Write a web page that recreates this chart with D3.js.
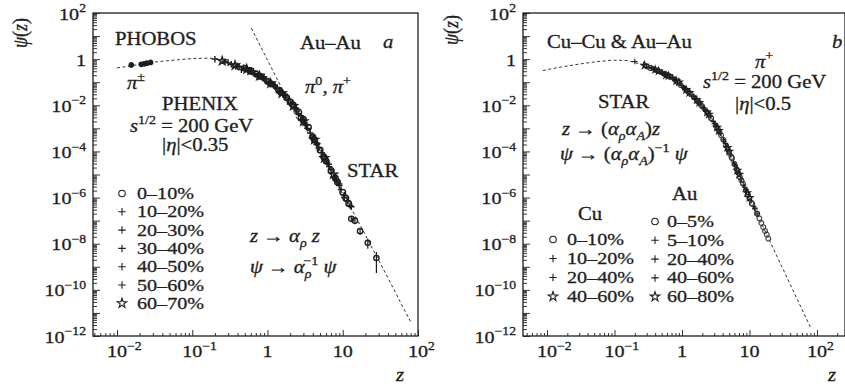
<!DOCTYPE html>
<html>
<head>
<meta charset="utf-8">
<script src="https://cdn.jsdelivr.net/npm/d3@7"></script>
<style>
  body { margin: 0; background: #fff; }
  svg text { white-space: pre; }
</style>
</head>
<body>
<div id="chart"></div>
<script>
// ---- data ----
// panel a : Au-Au, PHOBOS / PHENIX / STAR
const phobosZ   = [0.0155, 0.021, 0.023, 0.025, 0.028];
const phobosPsi = [0.56, 0.6, 0.63, 0.67, 0.72];

const a0010Z   = [0.5, 0.7, 1.0, 1.4, 2.0, 2.8, 4.0, 5.6, 8.0, 11];
const a0010Psi = [0.40, 0.23, 0.11, 0.046, 0.014, 2.8e-3, 4.2e-4, 5.8e-5, 6.8e-6, 9.3e-7];
const a1020Z   = [0.2, 0.45, 0.62, 0.85, 1.2, 1.65, 2.3, 3.2, 4.5, 6.2, 8.5, 11.5];
const a1020Psi = [1.0, 0.35, 0.28, 0.16, 0.072, 0.028, 7.6e-3, 1.4e-3, 2.0e-4, 3.2e-5, 4.7e-6, 7.1e-7];
const a2030Z   = [0.38, 0.52, 0.75, 1.05, 1.5, 2.1, 2.9, 4.1, 5.8, 7.8, 10.5];
const a2030Psi = [0.48, 0.38, 0.20, 0.10, 0.037, 0.011, 2.5e-3, 3.7e-4, 4.7e-5, 7.9e-6, 1.26e-6];
const a3040Z   = [0.33, 0.48, 0.68, 0.95, 1.35, 1.9, 2.6, 3.7, 5.2, 7.0, 9.5, 12.5];
const a3040Psi = [0.60, 0.42, 0.24, 0.126, 0.052, 0.017, 4.3e-3, 6.3e-4, 8.9e-5, 1.6e-5, 2.2e-6, 4.5e-7];
const a4050Z   = [0.3, 0.42, 0.6, 0.88, 1.25, 1.75, 2.45, 3.4, 4.8, 6.6, 9.0];
const a4050Psi = [0.69, 0.48, 0.30, 0.145, 0.065, 0.023, 5.6e-3, 1.0e-3, 1.4e-4, 2.2e-5, 3.3e-6];
const a5060Z   = [0.27, 0.4, 0.57, 0.8, 1.15, 1.6, 2.25, 3.1, 4.4, 6.0, 8.2];
const a5060Psi = [0.78, 0.50, 0.33, 0.18, 0.083, 0.030, 8.3e-3, 1.7e-3, 2.4e-4, 4.0e-5, 5.8e-6];
const a6070Z   = [0.25, 0.37, 0.53, 0.78, 1.1, 1.55, 2.2, 3.0, 4.2, 5.7, 7.5];
const a6070Psi = [0.83, 0.54, 0.37, 0.19, 0.089, 0.033, 9.3e-3, 2.0e-3, 3.2e-4, 5.2e-5, 1.0e-5];
// STAR pi+ in the same centralities
const s0010Z   = [0.6, 0.8, 1.1, 1.5, 1.8, 2.2, 2.6, 3.0, 3.5, 4.2, 5.0, 6.0, 7.0, 8.5, 10, 12];
const s0010Psi = [0.30, 0.18, 0.085, 0.037, 0.021, 0.0102, 5.0e-3, 2.5e-3, 1.12e-3, 3.2e-4, 1.15e-4, 3.8e-5, 1.5e-5, 4.7e-6, 1.7e-6, 5.5e-7];
const s2040Z   = [0.65, 0.9, 1.25, 1.7, 2.4, 3.3, 4.6, 6.5, 9.0, 13];
const s2040Psi = [0.30, 0.174, 0.076, 0.030, 7.4e-3, 1.4e-3, 2.2e-4, 2.8e-5, 3.9e-6, 4.0e-7];
const s4060Z   = [0.55, 0.75, 1.05, 1.45, 2.0, 2.8, 3.9, 5.4, 7.6, 10.5];
const s4060Psi = [0.28, 0.17, 0.085, 0.035, 0.0117, 2.3e-3, 4.1e-4, 6.0e-5, 7.8e-6, 1.0e-6];

const starAZ   = [13, 14.5, 17, 21.5, 28];
const starAPsi = [1.2e-7, 1.0e-7, 3.5e-8, 1.1e-8, 2.4e-9];
const starALo  = [9e-8, 7e-8, 2.4e-8, 6e-9, 5.4e-10];
const starAHi  = [1.6e-7, 1.4e-7, 4.8e-8, 1.6e-8, 4.4e-9];

const fitAZ   = [0.01, 0.0158, 0.025, 0.04, 0.063, 0.1, 0.158, 0.2, 0.316, 0.4, 0.5, 0.63, 0.79, 1.0, 1.26, 1.58, 2.0, 2.5, 3.16, 3.98, 5.0, 6.3, 7.9, 10, 12.6, 15.8, 20, 25, 31.6, 39.8, 50, 63, 79.4];
const fitAPsi = [0.42, 0.52, 0.68, 0.81, 0.93, 1.05, 1.10, 1.07, 0.68, 0.51, 0.40, 0.275, 0.18, 0.112, 0.063, 0.032, 0.014, 5.0e-3, 1.5e-3, 4.3e-4, 1.1e-4, 2.8e-5, 7.1e-6, 1.7e-6, 4.1e-7, 1.0e-7, 2.4e-8, 5.8e-9, 1.4e-9, 3.3e-10, 7.9e-11, 1.8e-11, 4.3e-12];
const slopeAZ   = [0.61, 2.5];
const slopeAPsi = [22, 2.5e-3];

// panel b : Cu-Cu & Au-Au, STAR pi+
const au0005Z   = [0.3, 0.42, 0.6, 0.85, 1.2, 1.7, 2.4, 3.4, 4.8, 6.8, 9.5, 13, 17];
const au0005Psi = [0.49, 0.33, 0.20, 0.105, 0.041, 0.015, 4.5e-3, 9.5e-4, 1.2e-4, 1.2e-5, 1.3e-6, 2.0e-7, 3.6e-8];
const au0510Z   = [0.2, 0.35, 0.5, 0.72, 1.0, 1.45, 2.05, 2.9, 4.1, 5.8, 8.2, 11.5];
const au0510Psi = [0.79, 0.42, 0.26, 0.16, 0.071, 0.024, 7.9e-3, 2.0e-3, 3.2e-4, 3.5e-5, 3.5e-6, 4.2e-7];
const au2040Z   = [0.27, 0.38, 0.55, 0.78, 1.1, 1.55, 2.2, 3.1, 4.4, 6.2, 8.8, 12];
const au2040Psi = [0.58, 0.38, 0.23, 0.13, 0.055, 0.020, 6.3e-3, 1.6e-3, 2.2e-4, 2.4e-5, 2.2e-6, 3.5e-7];
const au4060Z   = [0.32, 0.46, 0.65, 0.92, 1.3, 1.85, 2.6, 3.7, 5.2, 7.4, 10.5];
const au4060Psi = [0.44, 0.30, 0.17, 0.093, 0.030, 0.012, 3.3e-3, 6.0e-4, 7.1e-5, 6.3e-6, 7.1e-7];
const au6080Z   = [0.28, 0.4, 0.58, 0.82, 1.15, 1.65, 2.35, 3.3, 4.7, 6.6, 9.2];
const au6080Psi = [0.54, 0.35, 0.20, 0.115, 0.047, 0.017, 5.0e-3, 1.1e-3, 1.45e-4, 1.5e-5, 1.6e-6];
const au0005bZ   = [0.55, 0.78, 1.1, 1.5, 2.0, 2.7, 3.6, 4.5, 5.5, 6.5, 8.0, 10, 14, 18];
const au0005bPsi = [0.23, 0.132, 0.052, 0.022, 8.9e-3, 2.8e-3, 6.8e-4, 1.8e-4, 5.1e-5, 1.6e-5, 4.0e-6, 9.3e-7, 1.26e-7, 2.5e-8];
const cu0010Z   = [0.34, 0.48, 0.68, 0.95, 1.35, 1.9, 2.7, 3.8, 5.4, 7.6, 10.8, 15, 19];
const cu0010Psi = [0.41, 0.28, 0.17, 0.076, 0.030, 0.0105, 2.8e-3, 5.0e-4, 5.8e-5, 5.6e-6, 5.6e-7, 7.9e-8, 1.66e-8];
const cu0010bZ   = [0.62, 0.88, 1.25, 1.75, 2.4, 3.2, 4.1, 5.0, 6.0, 7.2, 8.8, 11, 13, 16];
const cu0010bPsi = [0.20, 0.1, 0.038, 0.014, 4.7e-3, 1.26e-3, 3.2e-4, 9.5e-5, 2.8e-5, 7.9e-6, 2.1e-6, 5.4e-7, 2.0e-7, 5.2e-8];
const cu1020Z   = [0.36, 0.52, 0.74, 1.05, 1.5, 2.1, 3.0, 4.2, 6.0, 8.5, 12];
const cu1020Psi = [0.40, 0.24, 0.148, 0.060, 0.024, 7.6e-3, 1.66e-3, 2.75e-4, 2.8e-5, 2.8e-6, 3.2e-7];
const cu2040Z   = [0.4, 0.57, 0.8, 1.12, 1.6, 2.25, 3.2, 4.5, 6.4, 9.0, 13];
const cu2040Psi = [0.34, 0.22, 0.12, 0.05, 0.019, 5.6e-3, 1.3e-3, 1.6e-4, 1.9e-5, 1.9e-6, 2.0e-7];
const cu4060Z   = [0.45, 0.63, 0.9, 1.28, 1.8, 2.5, 3.5, 5.0, 7.0, 10];
const cu4060Psi = [0.30, 0.19, 0.10, 0.035, 0.013, 4.0e-3, 7.9e-4, 1.0e-4, 1.0e-5, 1.0e-6];

const fitBZ   = [0.0087, 0.0158, 0.025, 0.04, 0.063, 0.1, 0.141, 0.2, 0.316, 0.5, 0.794, 1.0, 1.26, 1.58, 2.0, 2.51, 3.16, 3.98, 5.01, 6.31, 7.94, 10, 12.6, 15.8, 20, 31.6, 50, 79.4];
const fitBPsi = [0.32, 0.45, 0.56, 0.69, 0.81, 0.89, 0.89, 0.71, 0.47, 0.26, 0.126, 0.068, 0.035, 0.019, 8.9e-3, 3.7e-3, 1.4e-3, 3.8e-4, 9.3e-5, 2.0e-5, 4.2e-6, 9.3e-7, 2.5e-7, 5.6e-8, 1.3e-8, 7.6e-10, 4.4e-11, 2.5e-12];

// tick labels
const yLabelExp = [2, 0, -2, -4, -6, -8, -10, -12];
const xLabelExp = [-2, -1, 0, 1, 2];

const legendA = ["0–10%", "10–20%", "20–30%", "30–40%", "40–50%", "50–60%", "60–70%"];
const legendATypes = ["circle", "plus", "plus", "plus", "plus", "plus", "star"];
const legendCu = ["0–10%", "10–20%", "20–40%", "40–60%"];
const legendCuTypes = ["circle", "plus", "plus", "star"];
const legendAu = ["0–5%", "5–10%", "20–40%", "40–60%", "60–80%"];
const legendAuTypes = ["circle", "plus", "plus", "plus", "star"];

// ---- drawing ----
const W = 845, H = 387;
const SX = 1.15;          // the source text is a bit wide
const INK = "#1e1e1e";
const FONT = "'Liberation Serif', 'Times New Roman', Times, 'Nimbus Roman', 'DejaVu Serif', serif";

const svg = d3.select("#chart").append("svg")
  .attr("width", W).attr("height", H)
  .attr("font-family", FONT);

// text with italic / sub / sup pieces
function label(g, x, y, parts, anchor = "start", size = 18, dx0 = 0, rotate = 0) {
  const t = g.append("g")
    .attr("transform", `translate(${x},${y}) scale(${SX},1)` + (rotate ? ` rotate(${rotate})` : ""))
    .append("text")
    .attr("x", dx0)
    .attr("text-anchor", anchor)
    .attr("font-family", FONT)
    .attr("fill", INK)
    .attr("stroke", INK)
    .attr("stroke-width", 0.3)
    .attr("font-size", size);
  let shift = 0;
  parts.forEach(p => {
    const [s, o] = typeof p === "string" ? [p, {}] : [p[0], p[1] || {}];
    const target = o.sup ? -0.42 * size : o.sub ? 0.3 * size : 0;
    const ts = t.append("tspan").text(s).attr("dy", target - shift);
    if (o.sup || o.sub) ts.attr("font-size", size * 0.68);
    if (o.i) ts.attr("font-style", "italic");
    if (o.dx) ts.attr("dx", o.dx);
    shift = target;
  });
  return t;
}

const plusPath = s => `M${-s / 2},0H${s / 2}M0,${-s / 2}V${s / 2}`;
function markerPath(type, s) {
  if (type === "plus") return plusPath(s);
  if (type === "star") return d3.symbol(d3.symbolStar, s * s * 0.5)();
  return d3.symbol(d3.symbolCircle, s * s * 0.6)();
}

function drawPanel(p) {
  const x = d3.scaleLog().domain(p.zDomain).range([p.left, p.right]);
  const y = d3.scaleLog().domain([1e-12, 1e2]).range([p.bottom, p.top]);
  const g = svg.append("g");

  // frame
  g.append("rect")
    .attr("x", p.left).attr("y", p.top)
    .attr("width", p.right - p.left).attr("height", p.bottom - p.top)
    .attr("fill", "none").attr("stroke", INK).attr("stroke-width", 1.3);

  // y ticks (inside)
  const yMajor = d3.range(-12, 3).map(k => Math.pow(10, k));
  const yMinor = [];
  d3.range(-12, 2).forEach(k => d3.range(2, 10).forEach(m => yMinor.push(m * Math.pow(10, k))));
  g.append("g").attr("transform", `translate(${p.left},0)`)
    .call(d3.axisLeft(y).tickValues(yMajor).tickSize(-7).tickFormat(""))
    .call(a => a.select(".domain").remove());
  g.append("g").attr("transform", `translate(${p.left},0)`)
    .call(d3.axisLeft(y).tickValues(yMinor).tickSize(-4).tickFormat(""))
    .call(a => a.select(".domain").remove());

  // x ticks (inside)
  const [z0, z1] = p.zDomain;
  const xMajor = d3.range(-3, 4).map(k => Math.pow(10, k)).filter(v => v >= z0 && v <= z1);
  const xMinor = [];
  d3.range(-3, 3).forEach(k => d3.range(2, 10).forEach(m => {
    const v = m * Math.pow(10, k);
    if (v >= z0 && v <= z1) xMinor.push(v);
  }));
  g.append("g").attr("transform", `translate(0,${p.bottom})`)
    .call(d3.axisBottom(x).tickValues(xMajor).tickSize(-6).tickFormat(""))
    .call(a => a.select(".domain").remove());
  g.append("g").attr("transform", `translate(0,${p.bottom})`)
    .call(d3.axisBottom(x).tickValues(xMinor).tickSize(-3).tickFormat(""))
    .call(a => a.select(".domain").remove());
  g.selectAll(".tick line").attr("stroke", INK).attr("stroke-width", 0.9);

  // tick labels
  yLabelExp.forEach(k => {
    const parts = k === 0 ? ["1"] : ["10", [k < 0 ? "−" + (-k) : String(k), { sup: 1 }]];
    label(g, p.left - 7, y(Math.pow(10, k)) + 6.5, parts, "end", 17.5);
  });
  xLabelExp.forEach(k => {
    const v = Math.pow(10, k);
    if (v < z0 || v > z1) return;
    if (k === 0) label(g, x(v), p.bottom + 21, ["1"], "middle", 17.5);
    else if (k === 1) label(g, x(v), p.bottom + 21, ["10"], "middle", 17.5);
    else label(g, x(v), p.bottom + 21, ["10", [k < 0 ? "−" + (-k) : String(k), { sup: 1 }]], "start", 17.5, -8.75);
  });

  // axis titles
  label(g, p.yTitleX, p.yTitleY, [["ψ", { i: 1 }], "(", ["z", { i: 1 }], ")"], "middle", 18, 0, -90);
  label(g, p.zTitleX, p.bottom + 45, [["z", { i: 1 }]], "middle", 18);

  // dashed fit curves
  const line = d3.line().x(d => x(d[0])).y(d => y(d[1])).curve(d3.curveMonotoneX);
  p.fits.forEach(f => {
    g.append("path")
      .datum(d3.zip(f.z, f.psi))
      .attr("d", line)
      .attr("fill", "none").attr("stroke", INK).attr("stroke-width", 0.9)
      .attr("stroke-dasharray", "3,2.5");
  });

  // error bars
  (p.errs || []).forEach(e => {
    g.append("g").selectAll("line")
      .data(d3.range(e.z.length))
      .join("line")
      .attr("x1", i => x(e.z[i])).attr("x2", i => x(e.z[i]))
      .attr("y1", i => y(e.lo[i])).attr("y2", i => y(e.hi[i]))
      .attr("stroke", INK).attr("stroke-width", 1.2);
  });

  // data points
  p.series.forEach(s => {
    g.append("g").selectAll("path")
      .data(d3.zip(s.z, s.psi))
      .join("path")
      .attr("transform", d => `translate(${x(d[0])},${y(d[1])})`)
      .attr("d", markerPath(s.type, s.size || p.mSize))
      .attr("fill", s.type === "dot" ? INK : "none")
      .attr("stroke", s.color || INK)
      .attr("stroke-width", p.mStroke);
  });

  return g;
}

const gA = drawPanel({
  left: 93, right: 418, top: 13, bottom: 336, zDomain: [0.0048, 100],
  yTitleX: 27, yTitleY: 33, zTitleX: 400, mSize: 6.5, mStroke: 1.4,
  fits: [{ z: fitAZ, psi: fitAPsi }, { z: slopeAZ, psi: slopeAPsi }],
  errs: [{ z: starAZ, lo: starALo, hi: starAHi }],
  series: [
    { z: phobosZ, psi: phobosPsi, type: "dot", size: 5 },
    { z: a0010Z, psi: a0010Psi, type: "circle" },
    { z: a1020Z, psi: a1020Psi, type: "plus" },
    { z: a2030Z, psi: a2030Psi, type: "plus" },
    { z: a3040Z, psi: a3040Psi, type: "plus" },
    { z: a4050Z, psi: a4050Psi, type: "plus" },
    { z: a5060Z, psi: a5060Psi, type: "plus" },
    { z: a6070Z, psi: a6070Psi, type: "star" },
    { z: s0010Z, psi: s0010Psi, type: "circle" },
    { z: s2040Z, psi: s2040Psi, type: "plus" },
    { z: s4060Z, psi: s4060Psi, type: "plus" },
    { z: starAZ, psi: starAPsi, type: "circle", size: 6 }
  ]
});

const gB = drawPanel({
  left: 523, right: 845, top: 13, bottom: 336, zDomain: [0.00441, 260],
  yTitleX: 458, yTitleY: 30, zTitleX: 832, mSize: 5.5, mStroke: 1.1,
  fits: [{ z: fitBZ, psi: fitBPsi }],
  series: [
    { z: au0005Z, psi: au0005Psi, type: "circle", color: "#3a3a3a" },
    { z: au0005bZ, psi: au0005bPsi, type: "circle", color: "#3a3a3a" },
    { z: au0510Z, psi: au0510Psi, type: "plus" },
    { z: au2040Z, psi: au2040Psi, type: "plus" },
    { z: au4060Z, psi: au4060Psi, type: "plus" },
    { z: au6080Z, psi: au6080Psi, type: "star" },
    { z: cu0010Z, psi: cu0010Psi, type: "circle", color: "#3a3a3a" },
    { z: cu0010bZ, psi: cu0010bPsi, type: "circle", color: "#3a3a3a" },
    { z: cu1020Z, psi: cu1020Psi, type: "plus" },
    { z: cu2040Z, psi: cu2040Psi, type: "plus" },
    { z: cu4060Z, psi: cu4060Psi, type: "star" }
  ]
});

// ---- annotations, panel a ----
label(gA, 115, 45, ["PHOBOS"]);
label(gA, 300, 49, ["Au–Au"]);
label(gA, 383, 48, [["a", { i: 1 }]]);
label(gA, 127, 89, [["π", { i: 1 }], ["±", { sup: 1 }]]);
label(gA, 305, 93, [["π", { i: 1 }], ["0", { sup: 1 }], ", ", ["π", { i: 1 }], ["+", { sup: 1 }]]);
label(gA, 200, 110, ["PHENIX"], "middle");
label(gA, 130, 132, [["s", { i: 1 }], ["1/2", { sup: 1 }], " = 200 GeV"]);
label(gA, 162, 151, ["|", ["η", { i: 1 }], "|<0.35"]);
label(gA, 347, 177, ["STAR"]);
label(gA, 250, 242, [["z", { i: 1 }], " → ", ["α", { i: 1 }], ["ρ", { i: 1, sub: 1 }], [" z", { i: 1 }]]);
label(gA, 250, 273, [["ψ", { i: 1 }], " → ", ["α", { i: 1 }], ["ρ", { i: 1, sub: 1 }], ["−1", { sup: 1, dx: -7 }], [" ψ", { i: 1 }]]);

legendA.forEach((t, i) => {
  const by = 199 + i * 18.3;
  gA.append("path")
    .attr("transform", `translate(122,${by - 5.5})`)
    .attr("d", markerPath(legendATypes[i], 7.5))
    .attr("fill", "none").attr("stroke", INK).attr("stroke-width", 1.1);
  label(gA, 137, by, [t], "start", 17.5);
});

// ---- annotations, panel b ----
label(gB, 547, 48, ["Cu–Cu & Au–Au"]);
label(gB, 832, 48, [["b", { i: 1 }]]);
label(gB, 755, 68, [["π", { i: 1 }], ["+", { sup: 1 }]]);
label(gB, 703, 88, [["s", { i: 1 }], ["1/2", { sup: 1 }], " = 200 GeV"]);
label(gB, 735, 110, ["|", ["η", { i: 1 }], "|<0.5"]);
label(gB, 598, 108, ["STAR"]);
label(gB, 562, 135, [["z", { i: 1 }], " → (", ["α", { i: 1 }], ["ρ", { i: 1, sub: 1 }], ["α", { i: 1 }], ["A", { i: 1, sub: 1 }], ")", ["z", { i: 1 }]]);
label(gB, 560, 160, [["ψ", { i: 1 }], " → (", ["α", { i: 1 }], ["ρ", { i: 1, sub: 1 }], ["α", { i: 1 }], ["A", { i: 1, sub: 1 }], ")", ["−1", { sup: 1 }], [" ψ", { i: 1 }]]);
label(gB, 672, 200, ["Au"]);
label(gB, 578, 220, ["Cu"]);

legendCu.forEach((t, i) => {
  const by = 245 + i * 19;
  gB.append("path")
    .attr("transform", `translate(553,${by - 5.5})`)
    .attr("d", markerPath(legendCuTypes[i], 7.5))
    .attr("fill", "none").attr("stroke", INK).attr("stroke-width", 1.1);
  label(gB, 567, by, [t], "start", 17.5);
});
legendAu.forEach((t, i) => {
  const by = 227 + i * 18.8;
  gB.append("path")
    .attr("transform", `translate(655,${by - 5.5})`)
    .attr("d", markerPath(legendAuTypes[i], 7.5))
    .attr("fill", "none").attr("stroke", INK).attr("stroke-width", 1.1);
  label(gB, 667, by, [t], "start", 17.5);
});
</script>
</body>
</html>
